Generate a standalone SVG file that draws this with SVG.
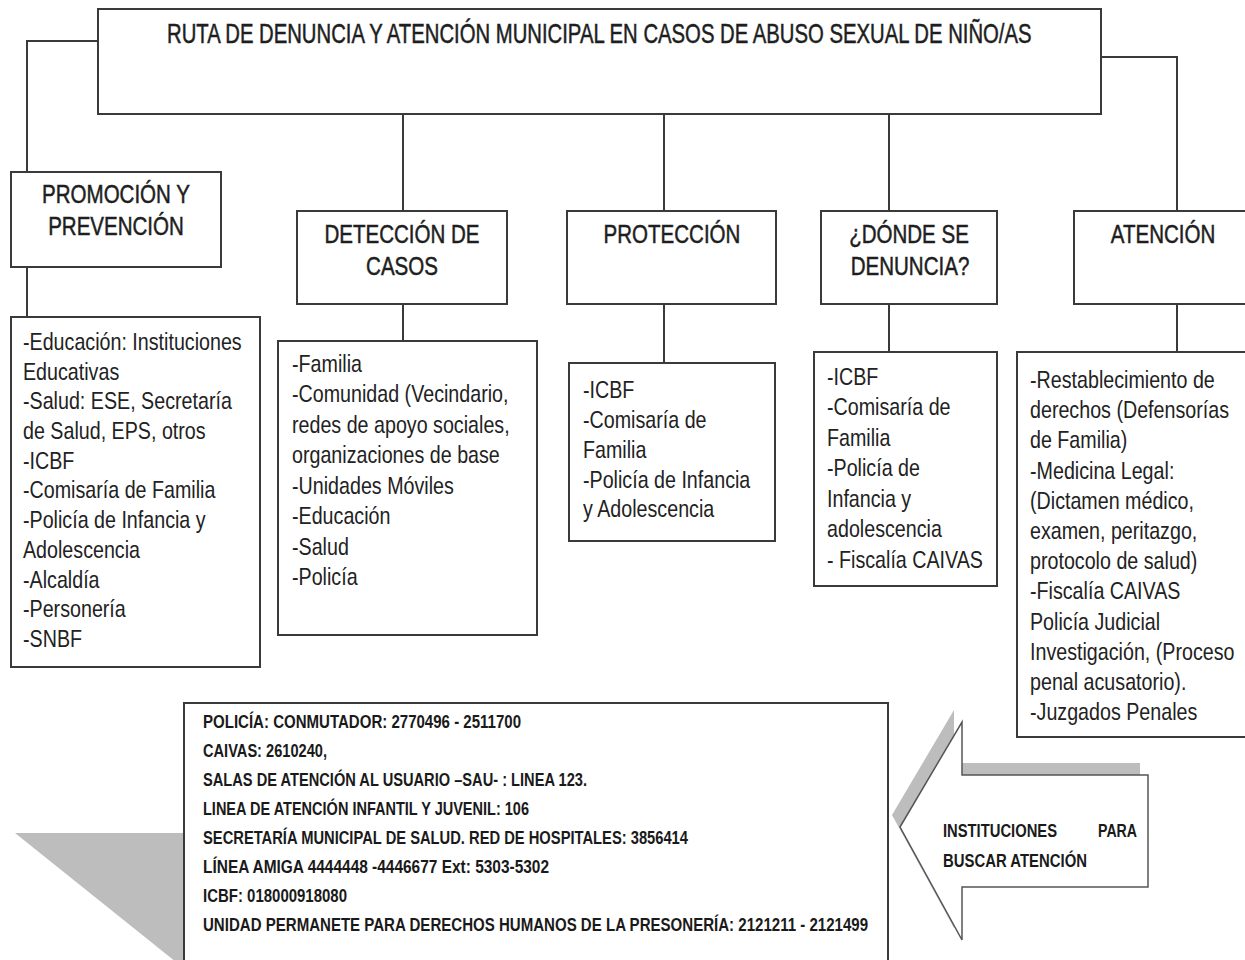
<svg xmlns="http://www.w3.org/2000/svg" width="1245" height="960" viewBox="0 0 1245 960">
<style>
.box{fill:#fff;stroke:#3a3a3a;stroke-width:2}
.ln{fill:none;stroke:#3a3a3a;stroke-width:2}
.hd{font-family:"Liberation Sans",Arial,sans-serif;font-size:26px;fill:#1e1e1e;stroke:#1e1e1e;stroke-width:0.5;text-anchor:middle}
.tt{font-family:"Liberation Sans",Arial,sans-serif;font-size:27px;fill:#1e1e1e;stroke:#1e1e1e;stroke-width:0.5}
.li{font-family:"Liberation Sans",Arial,sans-serif;font-size:24px;fill:#222}
.bt{font-family:"Liberation Sans",Arial,sans-serif;font-size:18px;font-weight:bold;fill:#1a1a1a}
</style>
<rect width="1245" height="960" fill="#fff"/>
<g id="connectors">
<polyline class="ln" points="98,41 27,41 27,172"/>
<line class="ln" x1="27" y1="267" x2="27" y2="317"/>
<line class="ln" x1="403" y1="114" x2="403" y2="211"/>
<line class="ln" x1="403" y1="304" x2="403" y2="341"/>
<line class="ln" x1="664" y1="114" x2="664" y2="211"/>
<line class="ln" x1="664" y1="304" x2="664" y2="363"/>
<line class="ln" x1="889" y1="114" x2="889" y2="211"/>
<line class="ln" x1="889" y1="304" x2="889" y2="352"/>
<polyline class="ln" points="1101,57 1177,57 1177,211"/>
<line class="ln" x1="1177" y1="304" x2="1177" y2="352"/>
</g>
<g id="title">
<rect class="box" x="98" y="9" width="1003" height="105"/>
<text class="tt" transform="matrix(0.69 0 0 1 167 0)" x="0" y="43" textLength="1253" lengthAdjust="spacingAndGlyphs">RUTA DE DENUNCIA Y ATENCIÓN  MUNICIPAL EN CASOS DE ABUSO SEXUAL DE NIÑO/AS</text>
</g>
<g id="promocion">
<rect class="box" x="11" y="172" width="210" height="95"/>
<text class="hd" transform="matrix(0.79 0 0 1 116 0)" x="0" y="203">PROMOCIÓN Y</text>
<text class="hd" transform="matrix(0.79 0 0 1 116 0)" x="0" y="235">PREVENCIÓN</text>
</g>
<g id="deteccion">
<rect class="box" x="297" y="211" width="210" height="93"/>
<text class="hd" transform="matrix(0.79 0 0 1 402 0)" x="0" y="243">DETECCIÓN DE</text>
<text class="hd" transform="matrix(0.79 0 0 1 402 0)" x="0" y="275">CASOS</text>
</g>
<g id="proteccion">
<rect class="box" x="567" y="211" width="209" height="93"/>
<text class="hd" transform="matrix(0.79 0 0 1 672 0)" x="0" y="243">PROTECCIÓN</text>
</g>
<g id="donde">
<rect class="box" x="821" y="211" width="176" height="93"/>
<text class="hd" transform="matrix(0.79 0 0 1 909 0)" x="0" y="243">¿DÓNDE SE</text>
<text class="hd" transform="matrix(0.79 0 0 1 910 0)" x="0" y="275">DENUNCIA?</text>
</g>
<g id="atencion">
<rect class="box" x="1074" y="211" width="180" height="93"/>
<text class="hd" transform="matrix(0.79 0 0 1 1163 0)" x="0" y="243">ATENCIÓN</text>
</g>
<g id="lista-promocion">
<rect class="box" x="11" y="317" width="249" height="350"/>
<g transform="matrix(0.82 0 0 1 23 0)">
<text class="li" x="0" y="350">-Educación: Instituciones</text>
<text class="li" x="0" y="380">Educativas</text>
<text class="li" x="0" y="409">-Salud: ESE, Secretaría</text>
<text class="li" x="0" y="439">de Salud, EPS, otros</text>
<text class="li" x="0" y="469">-ICBF</text>
<text class="li" x="0" y="498">-Comisaría de Familia</text>
<text class="li" x="0" y="528">-Policía de Infancia y</text>
<text class="li" x="0" y="558">Adolescencia</text>
<text class="li" x="0" y="588">-Alcaldía</text>
<text class="li" x="0" y="617">-Personería</text>
<text class="li" x="0" y="647">-SNBF</text>
</g>
</g>
<g id="lista-deteccion">
<rect class="box" x="278" y="341" width="259" height="294"/>
<g transform="matrix(0.82 0 0 1 292 0)">
<text class="li" x="0" y="372">-Familia</text>
<text class="li" x="0" y="402">-Comunidad (Vecindario,</text>
<text class="li" x="0" y="433">redes de apoyo sociales,</text>
<text class="li" x="0" y="463">organizaciones de base</text>
<text class="li" x="0" y="494">-Unidades Móviles</text>
<text class="li" x="0" y="524">-Educación</text>
<text class="li" x="0" y="555">-Salud</text>
<text class="li" x="0" y="585">-Policía</text>
</g>
</g>
<g id="lista-proteccion">
<rect class="box" x="569" y="363" width="206" height="178"/>
<g transform="matrix(0.82 0 0 1 583 0)">
<text class="li" x="0" y="398">-ICBF</text>
<text class="li" x="0" y="428">-Comisaría de</text>
<text class="li" x="0" y="458">Familia</text>
<text class="li" x="0" y="488">-Policía de Infancia</text>
<text class="li" x="0" y="517">y Adolescencia</text>
</g>
</g>
<g id="lista-donde">
<rect class="box" x="814" y="352" width="183" height="234"/>
<g transform="matrix(0.82 0 0 1 827 0)">
<text class="li" x="0" y="385">-ICBF</text>
<text class="li" x="0" y="415">-Comisaría de</text>
<text class="li" x="0" y="446">Familia</text>
<text class="li" x="0" y="476">-Policía de</text>
<text class="li" x="0" y="507">Infancia y</text>
<text class="li" x="0" y="537">adolescencia</text>
<text class="li" x="0" y="568">- Fiscalía CAIVAS</text>
</g>
</g>
<g id="lista-atencion">
<rect class="box" x="1017" y="352" width="240" height="385"/>
<g transform="matrix(0.82 0 0 1 1030 0)">
<text class="li" x="0" y="388">-Restablecimiento de</text>
<text class="li" x="0" y="418">derechos (Defensorías</text>
<text class="li" x="0" y="448">de Familia)</text>
<text class="li" x="0" y="479">-Medicina Legal:</text>
<text class="li" x="0" y="509">(Dictamen médico,</text>
<text class="li" x="0" y="539">examen, peritazgo,</text>
<text class="li" x="0" y="569">protocolo de salud)</text>
<text class="li" x="0" y="599">-Fiscalía CAIVAS</text>
<text class="li" x="0" y="630">Policía Judicial</text>
<text class="li" x="0" y="660">Investigación, (Proceso</text>
<text class="li" x="0" y="690">penal  acusatorio).</text>
<text class="li" x="0" y="720">-Juzgados Penales</text>
</g>
</g>
<g id="triangulo">
<polygon points="15,833 186,833 186,962 176,962" fill="#bdbdbd"/>
</g>
<g id="telefonos">
<rect class="box" x="184" y="703" width="704" height="300"/>
<text class="bt" x="203" y="728" textLength="318" lengthAdjust="spacingAndGlyphs">POLICÍA: CONMUTADOR: 2770496 - 2511700</text>
<text class="bt" x="203" y="757" textLength="124" lengthAdjust="spacingAndGlyphs">CAIVAS: 2610240,</text>
<text class="bt" x="203" y="786" textLength="384" lengthAdjust="spacingAndGlyphs">SALAS DE ATENCIÓN AL USUARIO –SAU- : LINEA 123.</text>
<text class="bt" x="203" y="815" textLength="326" lengthAdjust="spacingAndGlyphs">LINEA DE ATENCIÓN INFANTIL Y JUVENIL: 106</text>
<text class="bt" x="203" y="844" textLength="485" lengthAdjust="spacingAndGlyphs">SECRETARÍA MUNICIPAL DE SALUD. RED DE HOSPITALES: 3856414</text>
<text class="bt" x="203" y="873" textLength="346" lengthAdjust="spacingAndGlyphs">LÍNEA AMIGA 4444448 -4446677 Ext: 5303-5302</text>
<text class="bt" x="203" y="902" textLength="144" lengthAdjust="spacingAndGlyphs">ICBF: 018000918080</text>
<text class="bt" x="203" y="931" textLength="665" lengthAdjust="spacingAndGlyphs">UNIDAD PERMANETE PARA DERECHOS HUMANOS DE LA PRESONERÍA: 2121211 - 2121499</text>
</g>
<g id="flecha">
<polygon points="892,815 954,710 954,763 1140,763 1140,875 954,875 954,928" fill="#bdbdbd"/>
<polygon points="900,827 962,722 962,775 1148,775 1148,887 962,887 962,940" fill="#fff" stroke="#555" stroke-width="1.5"/>
<text class="bt" x="943" y="837" textLength="114" lengthAdjust="spacingAndGlyphs">INSTITUCIONES</text>
<text class="bt" x="1098" y="837" textLength="39" lengthAdjust="spacingAndGlyphs">PARA</text>
<text class="bt" x="943" y="867" textLength="144" lengthAdjust="spacingAndGlyphs">BUSCAR ATENCIÓN</text>
</g>
</svg>
